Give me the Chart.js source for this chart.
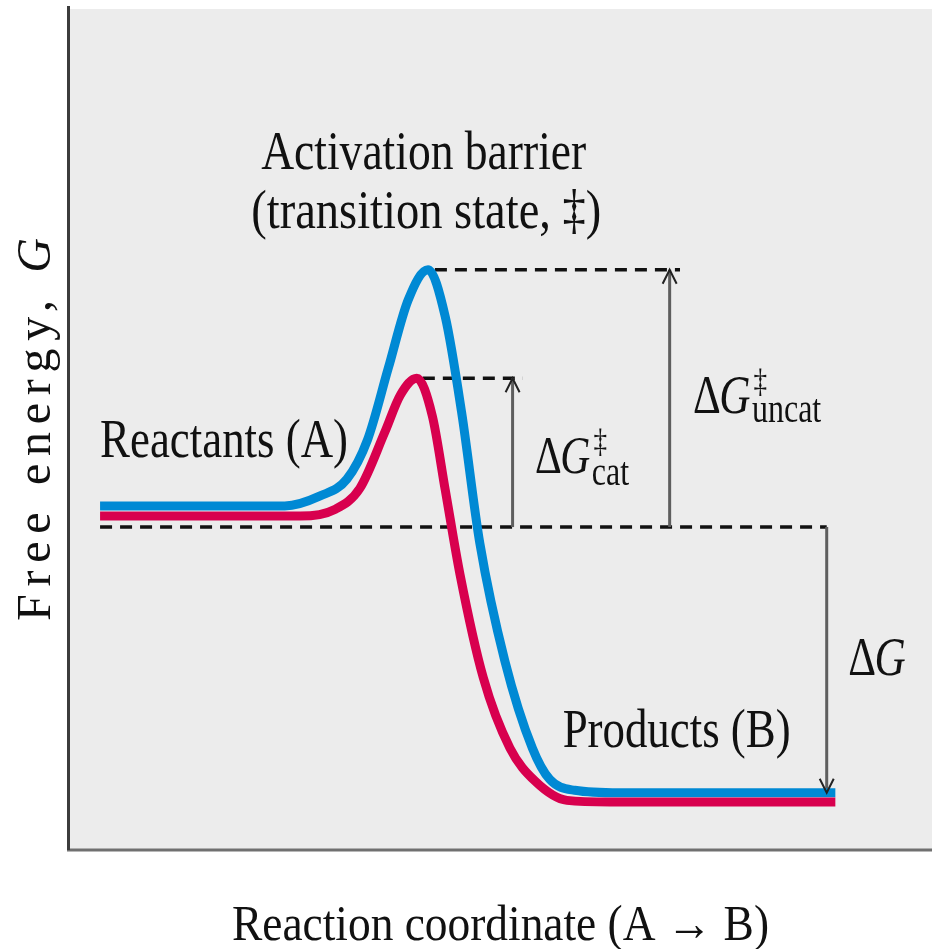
<!DOCTYPE html>
<html>
<head>
<meta charset="utf-8">
<script src="https://cdn.jsdelivr.net/npm/chart.js@4.4.1/dist/chart.umd.min.js"></script>
<style>
  html, body { margin: 0; padding: 0; background: #fff; }
</style>
</head>
<body>
<canvas id="energyChart" width="932" height="949"></canvas>
<script>
// Reaction coordinate (x) and free energy (y), both in arbitrary units 0-100
const uncatX = [3.6, 25.0, 29.1, 32.2, 34.6, 37.0, 39.3, 41.6, 43.6, 45.5, 47.6, 50.5, 53.7, 55.7, 58.6, 63.8, 88.8];
const uncatY = [40.9, 40.9, 42.1, 44.1, 48.8, 57.3, 65.4, 69.0, 63.4, 52.0, 36.5, 22.5, 12.1, 8.4, 7.1, 6.8, 6.8];

const catX = [3.6, 26.8, 30.8, 33.7, 36.6, 38.4, 40.3, 42.1, 43.6, 45.3, 48.0, 51.1, 54.0, 57.7, 62.7, 88.8];
const catY = [39.7, 39.7, 40.5, 43.0, 49.7, 54.1, 56.1, 51.6, 42.8, 32.8, 20.5, 12.1, 8.2, 5.9, 5.7, 5.7];

// energy levels: reactants, catalysed TS, uncatalysed TS, products
const levelNames = ['reactants', 'catTS', 'uncatTS', 'products'];
const levelValues = [38.4, 56.1, 69.0, 6.8];

// where the guide lines start / end along the reaction coordinate
const guideStartX = [3.6, 41.0, 42.4];
const guideEndX = [87.8, 52.6, 70.8];
// arrows: x position, from level, to level
const arrowX = [51.4, 69.6, 87.8];
const arrowFrom = ['reactants', 'reactants', 'reactants'];
const arrowTo = ['catTS', 'uncatTS', 'products'];

const lvl = name => levelValues[levelNames.indexOf(name)];
const pts = (xs, ys) => xs.map((x, i) => ({ x: x, y: ys[i] }));

const BLUE = 'rgb(0,137,212)';
const RED = 'rgb(216,0,78)';
const SERIF = '"Liberation Serif", "DejaVu Serif", serif';

const datasets = [];
// catalysed (red) on top of uncatalysed (blue)
datasets.push({ data: pts(catX, catY), borderColor: RED, borderWidth: 9, order: 0,
  pointRadius: 0, cubicInterpolationMode: 'monotone', borderCapStyle: 'butt' });
datasets.push({ data: pts(uncatX, uncatY), borderColor: BLUE, borderWidth: 9, order: 1,
  pointRadius: 0, cubicInterpolationMode: 'monotone', borderCapStyle: 'butt' });

// dashed guide lines
['reactants', 'catTS', 'uncatTS'].forEach((name, i) => {
  datasets.push({
    data: [{ x: guideStartX[i], y: lvl(name) }, { x: guideEndX[i], y: lvl(name) }],
    borderColor: '#111', borderWidth: 3.5, borderDash: [12, 8], pointRadius: 0, order: 3
  });
});

// arrow shafts
arrowX.forEach((x, i) => {
  datasets.push({
    data: [{ x: x, y: lvl(arrowFrom[i]) }, { x: x, y: lvl(arrowTo[i]) }],
    borderColor: '#5e5e5e', borderWidth: 3, pointRadius: 0, order: 2
  });
});

const framePlugin = {
  id: 'frame',
  beforeDraw(chart) {
    const { ctx, chartArea: a } = chart;
    ctx.save();
    ctx.fillStyle = '#ececec';
    ctx.fillRect(a.left, a.top, a.right - a.left, a.bottom - a.top);
    ctx.strokeStyle = '#707070';
    ctx.lineWidth = 3;
    ctx.beginPath();
    ctx.moveTo(a.left - 2, a.bottom);
    ctx.lineTo(a.right, a.bottom);
    ctx.stroke();
    ctx.strokeStyle = '#3c3c3c';
    ctx.beginPath();
    ctx.moveTo(a.left - 0.5, a.top - 3);
    ctx.lineTo(a.left - 0.5, a.bottom);
    ctx.stroke();
    ctx.restore();
  }
};

const arrowPlugin = {
  id: 'arrowHeads',
  afterDatasetsDraw(chart) {
    const { ctx, scales: { x, y } } = chart;
    ctx.save();
    ctx.strokeStyle = '#222';
    ctx.lineWidth = 2;
    arrowX.forEach((ax, i) => {
      const px = x.getPixelForValue(ax);
      const py = y.getPixelForValue(lvl(arrowTo[i]));
      const dir = lvl(arrowTo[i]) > lvl(arrowFrom[i]) ? 1 : -1;
      ctx.beginPath();
      ctx.moveTo(px - 7, py + dir * 14);
      ctx.lineTo(px, py);
      ctx.lineTo(px + 7, py + dir * 14);
      ctx.stroke();
    });
    ctx.restore();
  }
};

function label(ctx, s, px, py, size, opts) {
  opts = opts || {};
  ctx.font = (opts.italic ? 'italic ' : '') + size + 'px ' + SERIF;
  ctx.textAlign = opts.align || 'left';
  ctx.textBaseline = 'alphabetic';
  if (opts.maxW) ctx.fillText(s, px, py, opts.maxW);
  else ctx.fillText(s, px, py);
}

// "ΔG" with optional stacked superscript/subscript, squeezed horizontally
function deltaG(ctx, px, py, size, sub) {
  ctx.save();
  ctx.translate(px, py);
  ctx.scale(0.8, 1);
  ctx.font = size + 'px ' + SERIF;
  ctx.textAlign = 'left';
  ctx.fillText('Δ', 0, 0);
  let w = ctx.measureText('Δ').width;
  ctx.font = 'italic ' + size + 'px ' + SERIF;
  ctx.fillText('G', w - 2, 0);
  w += ctx.measureText('G').width - 2;
  if (sub) {
    ctx.font = '34px ' + SERIF;
    ctx.fillText('‡', w + 4, -21);
    ctx.font = '40px ' + SERIF;
    ctx.fillText(sub, w + 2, sub === 'cat' ? 12 : 9);
  }
  ctx.restore();
}

const textPlugin = {
  id: 'texts',
  afterDraw(chart) {
    const { ctx, scales: { x, y }, chartArea: a } = chart;
    const X = v => x.getPixelForValue(v);
    const Y = v => y.getPixelForValue(v);
    ctx.save();
    ctx.fillStyle = '#111';
    label(ctx, 'Activation barrier', X(41.1), Y(81.0), 54, { align: 'center', maxW: 325 });
    label(ctx, '(transition state, ‡)', X(41.4), Y(74.0), 54, { align: 'center', maxW: 350 });
    label(ctx, 'Reactants (A)', X(3.6), Y(46.7), 54, { maxW: 248 });
    label(ctx, 'Products (B)', X(57.2), Y(12.2), 54, { maxW: 228 });
    deltaG(ctx, X(54.0), Y(44.8), 52, 'cat');
    deltaG(ctx, X(72.3), Y(52.0), 54, 'uncat');
    deltaG(ctx, X(90.3), Y(20.8), 54, null);

    // x axis title
    label(ctx, 'Reaction coordinate (A → B)', (a.left + a.right) / 2, a.bottom + 90, 50,
      { align: 'center', maxW: 537 });

    // y axis title, letter spaced, rotated
    ctx.translate(37, (a.top + a.bottom) / 2);
    ctx.rotate(-Math.PI / 2);
    ctx.textBaseline = 'middle';
    const fs = 48;
    ctx.font = fs + 'px ' + SERIF;
    const w1 = ctx.measureText('Free energy, ').width;
    ctx.font = 'italic ' + fs + 'px ' + SERIF;
    const w2 = ctx.measureText('G').width;
    const n = 'Free energy, G'.length;
    const sp = Math.max(0, (383 - w1 - w2) / (n - 1));
    ctx.letterSpacing = sp + 'px';
    ctx.font = fs + 'px ' + SERIF;
    ctx.textAlign = 'left';
    const total = w1 + w2 + sp * (n - 1);
    ctx.fillText('Free energy, ', -total / 2, 0);
    const wA = ctx.measureText('Free energy, ').width;
    ctx.font = 'italic ' + fs + 'px ' + SERIF;
    ctx.fillText('G', -total / 2 + wA, 0);
    ctx.restore();
  }
};

new Chart(document.getElementById('energyChart').getContext('2d'), {
  type: 'line',
  data: { datasets: datasets },
  options: {
    responsive: false,
    animation: false,
    layout: { padding: { left: 69, top: 9, right: 0, bottom: 99 } },
    scales: {
      x: { type: 'linear', min: 0, max: 100, display: false },
      y: { type: 'linear', min: 0, max: 100, display: false }
    },
    plugins: { legend: { display: false }, tooltip: { enabled: false } }
  },
  plugins: [framePlugin, arrowPlugin, textPlugin]
});
</script>
</body>
</html>
